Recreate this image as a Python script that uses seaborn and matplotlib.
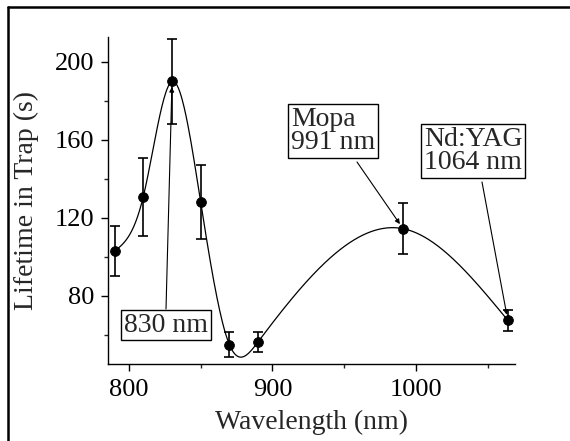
import numpy as np
import pandas as pd
import matplotlib
matplotlib.use("Agg")
import matplotlib.pyplot as plt
import seaborn as sns
from matplotlib.lines import Line2D

# ---- data ----
wavelength = [790, 810, 830, 850, 870, 890, 991, 1064]
lifetime = [103, 131, 190, 128, 55, 56.5, 114.5, 67.5]
lifetime_err = [13, 20, 22, 19, 6.5, 5, 13, 5.5]
x_ticks = [800, 900, 1000]
y_ticks = [80, 120, 160, 200]
annotations = [
    ("830 nm", 830, 190),
    ("Mopa\n991 nm", 991, 114.5),
    ("Nd:YAG\n1064 nm", 1064, 67.5),
]


def natural_spline(x, y, xs):
    x = np.asarray(x, float)
    y = np.asarray(y, float)
    n = len(x)
    h = np.diff(x)
    A = np.zeros((n, n))
    b = np.zeros(n)
    A[0, 0] = 1
    A[-1, -1] = 1
    for i in range(1, n - 1):
        A[i, i - 1] = h[i - 1]
        A[i, i] = 2 * (h[i - 1] + h[i])
        A[i, i + 1] = h[i]
        b[i] = 6 * ((y[i + 1] - y[i]) / h[i] - (y[i] - y[i - 1]) / h[i - 1])
    M = np.linalg.solve(A, b)
    out = np.empty_like(xs)
    for k, xv in enumerate(xs):
        i = min(max(np.searchsorted(x, xv) - 1, 0), n - 2)
        t1 = x[i + 1] - xv
        t0 = xv - x[i]
        out[k] = (M[i] * t1 ** 3 / (6 * h[i]) + M[i + 1] * t0 ** 3 / (6 * h[i])
                  + (y[i] / h[i] - M[i] * h[i] / 6) * t1
                  + (y[i + 1] / h[i] - M[i + 1] * h[i] / 6) * t0)
    return out


sns.set_style("ticks")
plt.rcParams["font.family"] = ["Liberation Serif", "DejaVu Serif"]

fig = plt.figure(figsize=(5.7, 4.41), dpi=100)
ax = fig.add_axes([0.1895, 0.1746, 0.714, 0.7415])

df = pd.DataFrame({"wavelength": wavelength, "lifetime": lifetime, "err": lifetime_err})
xs = np.linspace(min(wavelength), max(wavelength), 600)
curve = pd.DataFrame({"x": xs, "y": natural_spline(wavelength, lifetime, xs)})

sns.lineplot(data=curve, x="x", y="y", ax=ax, color="black", lw=0.9, sort=False)
ax.errorbar(df["wavelength"], df["lifetime"], yerr=df["err"], fmt="none",
            ecolor="black", elinewidth=1.2, capsize=3.5, capthick=1.2, zorder=3)
sns.scatterplot(data=df, x="wavelength", y="lifetime", ax=ax, color="black",
                s=50, edgecolor="black", zorder=4)

ax.set_xlim(785.4, 1069)
ax.set_ylim(45.1, 212.8)
ax.set_xticks(x_ticks)
ax.set_yticks(y_ticks)
ax.set_xticks([850, 950, 1050], minor=True)
ax.set_yticks([60, 100, 140, 180], minor=True)
ax.tick_params(axis="both", which="major", direction="out", length=5, width=1,
               labelsize=19, colors="black")
ax.tick_params(axis="x", which="major", pad=6)
ax.tick_params(axis="y", which="major", pad=5)
ax.tick_params(axis="both", which="minor", direction="out", length=3, width=1)
for s in ["top", "right"]:
    ax.spines[s].set_visible(False)
for s in ["left", "bottom"]:
    ax.spines[s].set_linewidth(1)
    ax.spines[s].set_color("black")

ax.set_xlabel("Wavelength (nm)", fontsize=20, labelpad=6)
ax.set_ylabel("Lifetime in Trap (s)", fontsize=20, labelpad=11)

# annotation boxes (positions in figure pixels of the reference)
W, H = 570, 441
text_pos = [(166, 325, "center"), (291, 131, "left"), (424, 151, "left")]
arrow_from = [(166, 309), (357, 162), (482, 182)]
bbox = dict(boxstyle="square,pad=0.1", fc="white", ec="black", lw=1)
for (label, xv, yv), (tx, ty, ha), (fx, fy) in zip(annotations, text_pos, arrow_from):
    fig.text(tx / W, 1 - ty / H, label, fontsize=20, ha=ha, va="center",
             linespacing=0.92, bbox=bbox, zorder=5)
    ax.annotate("", xy=(xv, yv), xycoords="data",
                xytext=(fx / W, 1 - fy / H), textcoords="figure fraction",
                arrowprops=dict(arrowstyle="-|>", color="black", lw=0.8,
                                mutation_scale=7, shrinkA=0, shrinkB=4))

# outer frame: top and left lines only
fig.lines.append(Line2D([8 / W, 1.0], [1 - 7 / H, 1 - 7 / H], transform=fig.transFigure,
                        color="black", lw=1.8))
fig.lines.append(Line2D([8 / W, 8 / W], [0, 1 - 7 / H], transform=fig.transFigure,
                        color="black", lw=1.8))

fig.savefig("out.png", dpi=100)
